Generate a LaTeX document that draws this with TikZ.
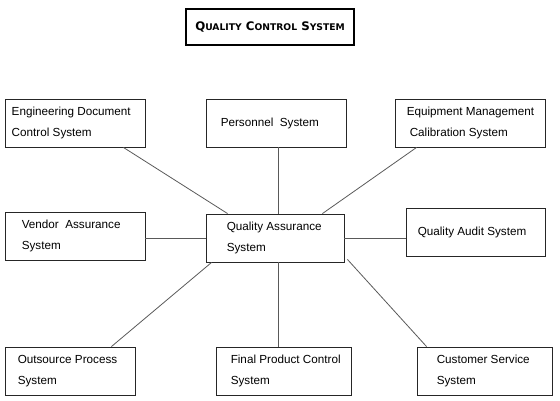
\documentclass[tikz,border=0pt]{standalone}
\usepackage{fontspec}
\setmainfont{Liberation Sans}
\newfontfamily\titlefont{DejaVu Sans}
\begin{document}
\begin{tikzpicture}[x=1pt,y=-1pt,
  boxst/.style={draw=black!85, line width=0.9pt, minimum height=48pt, inner sep=0pt, fill=white},
  txt/.style={anchor=west, align=left, inner sep=0pt, font=\fontsize{11.7}{21.5}\selectfont},
  conn/.style={draw=black!65, line width=0.8pt},
  titlest/.style={draw=black, line width=1.2pt, minimum width=168pt, minimum height=36pt, inner sep=0pt}
]
\useasboundingbox (0,0) rectangle (560,400);
% title
\node[titlest] (title) at (270,27) {\titlefont\bfseries\fontsize{11.8}{12}\selectfont Q{\fontsize{9.2}{9}\selectfont UALITY} C{\fontsize{9.2}{9}\selectfont ONTROL} S{\fontsize{9.2}{9}\selectfont YSTEM}};
% boxes
\node[boxst, minimum width=140pt] (eng) at (75,123) {};
\node[boxst, minimum width=140pt] (pers) at (276,123) {};
\node[boxst, minimum width=150pt] (equip) at (470,123) {};
\node[boxst, minimum width=140pt] (vend) at (75,236) {};
\node[boxst, minimum width=138pt] (qa) at (275,238) {};
\node[boxst, minimum width=139pt] (audit) at (475.5,232) {};
\node[boxst, minimum width=130pt] (out) at (70,371) {};
\node[boxst, minimum width=135pt] (final) at (283.5,371) {};
\node[boxst, minimum width=135pt] (cust) at (484.5,371) {};
% texts
\node[txt] (engt) at ([xshift=7pt]eng.west) {Engineering Document\\Control System};
\node[txt] (perst) at ([xshift=15pt]pers.west) {Personnel~~System};
\node[txt] (equipt) at ([xshift=12pt]equip.west) {Equipment Management\\\hspace*{3pt}Calibration System};
\node[txt] (vendt) at ([xshift=17pt]vend.west) {Vendor~~Assurance\\System};
\node[txt] (qat) at ([xshift=21pt]qa.west) {Quality Assurance\\System};
\node[txt] (auditt) at ([xshift=12pt]audit.west) {Quality Audit System};
\node[txt] (outt) at ([xshift=13pt]out.west) {Outsource Process\\System};
\node[txt] (finalt) at ([xshift=15pt]final.west) {Final Product Control\\System};
\node[txt] (custt) at ([xshift=20pt]cust.west) {Customer Service\\System};
% connectors
\draw[conn] ([xshift=-22pt]eng.south east) -- ([xshift=22pt]qa.north west);
\draw[conn] ([xshift=2pt]pers.south) -- ([xshift=3pt]qa.north);
\draw[conn] ([xshift=22pt]equip.south west) -- ([xshift=-22pt]qa.north east);
\draw[conn] (vend.east |- qa.west) -- (qa.west);
\draw[conn] (qa.east) -- (qa.east -| audit.west);
\draw[conn] ([xshift=-24pt]out.north east) -- ([xshift=6pt]qa.south west);
\draw[conn] ([xshift=3pt]qa.south) -- ([xshift=3pt]qa.south |- final.north);
\draw[conn] ([xshift=3pt,yshift=3pt]qa.south east) -- ([xshift=10pt]cust.north west);
\end{tikzpicture}
\end{document}
